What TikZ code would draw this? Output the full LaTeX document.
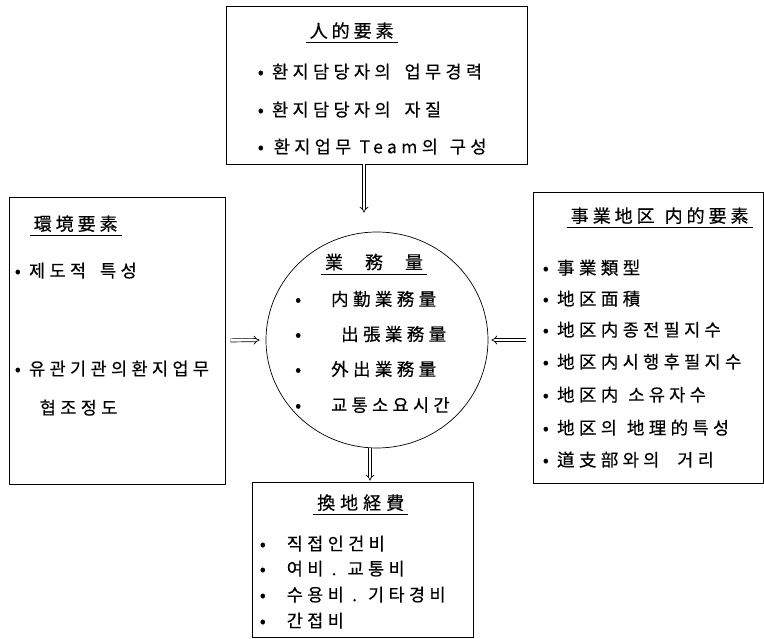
\documentclass[tikz,border=0pt]{standalone}
\usepackage{fontspec}
\setmainfont{Noto Sans CJK KR}[LetterSpace=25,FakeBold=0.4]
\newfontfamily\headfont{Noto Sans CJK KR}[LetterSpace=22,FakeBold=0.4]
\usepackage{tikz}
\usetikzlibrary{shapes.geometric,arrows.meta,positioning}
\tikzstyle{factor} = [draw, line width=0.7pt, inner sep=0pt]
\tikzstyle{workload} = [draw, ellipse, line width=0.7pt, minimum width=222pt, minimum height=216pt, inner sep=0pt]
\tikzstyle{heading} = [inner xsep=4pt, inner ysep=3.5pt, font=\fontsize{18}{20}\selectfont\headfont]
\tikzstyle{entry} = [anchor=west, inner sep=0pt, font=\fontsize{17.5}{19}\selectfont]
\tikzstyle{arrow} = [draw, line width=0.7pt, double distance=2.4pt, -{Implies}]
\tikzstyle{line} = [draw, line width=0.7pt]
\newcommand{\factor}[3]{node (f#1) [factor, minimum width=#2, minimum height=#3] {}}
\newcommand{\heading}[2]{node (h#1) [heading] {#2}}
\newcommand{\entry}[2]{node (e#1) [entry] {#2}}
\begin{document}
\begin{tikzpicture}[x=1pt,y=1pt]
\useasboundingbox (0,0) rectangle (764,639);
\path (377,299) node (work) [workload] {};
\path (work)+(-0.5,255) \factor{top}{301pt}{158pt};
\path (work)+(-260,-0.5) \factor{left}{216pt}{287pt};
\path (work)+(271,2.5) \factor{right}{230pt}{291pt};
\path (work)+(-14.5,-219.5) \factor{bot}{221pt}{155pt};

% human factors
\path (ftop.north west)+(126,-25) \heading{top}{人的要素};
\path [line] (htop.south west) -- (htop.south east);
\path (ftop.north west)+(32,-66) \entry{t1}{• 환지담당자의\hspace{14pt}업무경력};
\path (ftop.north west)+(32,-104) \entry{t2}{• 환지담당자의\hspace{14pt}자질};
\path (ftop.north west)+(32,-141) \entry{t3}{•\hspace{10pt}환지업무 Team의\hspace{12pt}구성};

% environment
\path (fleft.north west)+(67,-27) \heading{left}{環境要素};
\path [line] (hleft.south west) -- (hleft.south east);
\path (fleft.north west)+(6,-74) \entry{l1}{• 제도적\hspace{14pt}특성};
\path (fleft.north west)+(6,-172) \entry{l2}{• 유관기관의환지업무};
\path (fleft.north west)+(31,-211) \entry{l3}{협조정도};

% workload
\path (work)+(-3,78) \heading{work}{業\hspace{22pt}務\hspace{22pt}量};
\path [line] (hwork.south west) -- (hwork.south east);
\path (work)+(-82,41) \entry{w1}{•\hspace{30pt}内勤業務量};
\path (work)+(-82,6) \entry{w2}{•\hspace{40pt}出張業務量};
\path (work)+(-82,-29) \entry{w3}{•\hspace{30pt}外出業務量};
\path (work)+(-82,-65) \entry{w4}{•\hspace{30pt}교통소요시간};

% project district
\path (fright.north west)+(127,-24) \heading{right}{事業地区\hspace{10pt}内的要素};
\path [line] (hright.south west) -- (hright.south east);
\path (fright.north west)+(10,-76) \entry{r1}{• 事業類型};
\path (fright.north west)+(10,-107) \entry{r2}{• 地区面積};
\path (fright.north west)+(10,-138) \entry{r3}{• 地区内종전필지수};
\path (fright.north west)+(10,-170) \entry{r4}{• 地区内시행후필지수};
\path (fright.north west)+(10,-203) \entry{r5}{• 地区内\hspace{10pt}소유자수};
\path (fright.north west)+(10,-236) \entry{r6}{• 地区의\hspace{10pt}地理的특성};
\path (fright.north west)+(10,-268) \entry{r7}{• 道支部와의\hspace{18pt}거리};

% replotting cost
\path (fbot.north west)+(109,-21) \heading{bot}{換\hspace{5pt}地\hspace{5pt}経\hspace{5pt}費};
\path [line] (hbot.south west) -- (hbot.south east);
\path (fbot.north west)+(8,-62) \entry{b1}{•\hspace{21pt}직접인건비};
\path (fbot.north west)+(8,-87) \entry{b2}{•\hspace{21pt}여비 . 교통비};
\path (fbot.north west)+(8,-113) \entry{b3}{•\hspace{21pt}수용비 . 기타경비};
\path (fbot.north west)+(8,-139) \entry{b4}{•\hspace{21pt}간접비};

\path [arrow] ([xshift=-12.5pt]ftop.south) -- ([xshift=-13pt,yshift=19pt]work.north);
\path [arrow,shorten <=5pt,shorten >=6pt] (fleft.east) -- (work.west);
\path [arrow,shorten <=7pt,shorten >=3pt] (fright.west |- work.east) -- (work.east);
\path [arrow,shorten >=1pt] ([xshift=-7pt]work.south) -- ([xshift=7.5pt]fbot.north);
\end{tikzpicture}
\end{document}
